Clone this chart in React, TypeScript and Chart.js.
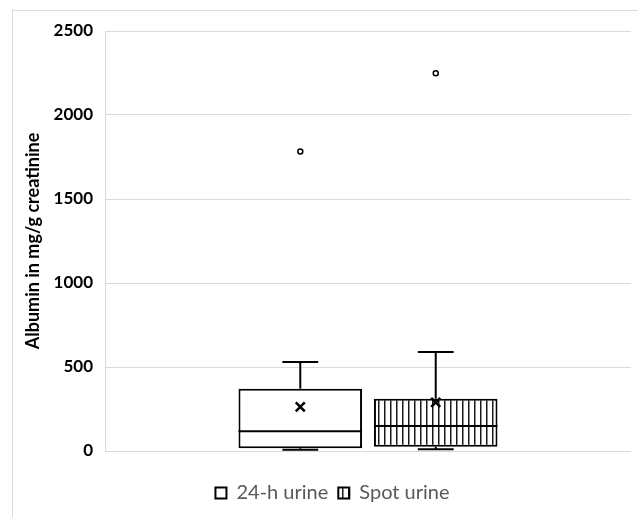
import React, { useEffect, useRef } from 'react';
import { Chart, registerables } from 'chart.js';

Chart.register(...registerables);

const categories = ['24-h urine', 'Spot urine'];
const minValues = [8, 10];
const q1Values = [16, 26];
const medianValues = [117, 149];
const q3Values = [371, 311];
const maxValues = [530, 589];
const meanValues = [262, 290];
const outlierValues = [[1782], [2248]];
const yMin = 0;
const yMax = 2500;
const yStep = 500;
const yTitle = 'Albumin in mg/g creatinine';

const FONT = 'Lato, "Open Sans", sans-serif';

function makeHatch(): CanvasPattern | string {
  const c = document.createElement('canvas');
  c.width = 6;
  c.height = 6;
  const g = c.getContext('2d');
  if (!g) return '#fff';
  g.fillStyle = '#ffffff';
  g.fillRect(0, 0, 6, 6);
  g.fillStyle = '#1a1a1a';
  g.fillRect(0, 0, 1.5, 6);
  const p = g.createPattern(c, 'repeat');
  return p || '#fff';
}

const boxParts = {
  id: 'boxParts',
  beforeDraw(chart: any) {
    const ctx = chart.ctx;
    ctx.save();
    ctx.fillStyle = '#ffffff';
    ctx.fillRect(0, 0, chart.width, chart.height);
    ctx.strokeStyle = '#dcdcdc';
    ctx.lineWidth = 1;
    ctx.strokeRect(12.5, 10.5, chart.width + 20, chart.height + 20);
    ctx.restore();
  },
  afterDatasetsDraw(chart: any) {
    const ctx = chart.ctx;
    const ys = chart.scales.y;
    const py = (v: number) => ys.getPixelForValue(v);
    const line = (x1: number, y1: number, x2: number, y2: number) => {
      ctx.beginPath();
      ctx.moveTo(x1, y1);
      ctx.lineTo(x2, y2);
      ctx.stroke();
    };
    categories.forEach((_, i) => {
      const el = chart.getDatasetMeta(i).data[0];
      if (!el) return;
      const x = el.x;
      const half = el.width / 2;
      const capHalf = el.width * 0.145;
      ctx.save();
      ctx.strokeStyle = '#000';
      ctx.lineWidth = 2;
      line(x - half, py(medianValues[i]), x + half, py(medianValues[i]));
      line(x, py(q3Values[i]), x, py(maxValues[i]));
      line(x - capHalf, py(maxValues[i]), x + capHalf, py(maxValues[i]));
      line(x, py(q1Values[i]), x, py(minValues[i]));
      line(x - capHalf, py(minValues[i]), x + capHalf, py(minValues[i]));
      const m = py(meanValues[i]);
      const s = 4.5;
      ctx.lineWidth = 2.5;
      line(x - s, m - s, x + s, m + s);
      line(x - s, m + s, x + s, m - s);
      ctx.lineWidth = 1.5;
      outlierValues[i].forEach((v) => {
        ctx.beginPath();
        ctx.arc(x, py(v), 2.5, 0, Math.PI * 2);
        ctx.fillStyle = '#fff';
        ctx.fill();
        ctx.stroke();
      });
      ctx.restore();
    });
  },
};

export default function App() {
  const ref = useRef<HTMLCanvasElement>(null);
  useEffect(() => {
    if (!ref.current) return;
    const hatch = makeHatch();
    const fills = ['#ffffff', hatch];
    const chart = new Chart(ref.current, {
      type: 'bar',
      data: {
        labels: [''],
        datasets: categories.map((name, i) => ({
          label: name,
          data: [[q1Values[i], q3Values[i]]] as any,
          backgroundColor: fills[i] as any,
          borderColor: '#000',
          borderWidth: 2,
          borderSkipped: false,
          categoryPercentage: 0.515,
          barPercentage: 0.912,
        })),
      },
      options: {
        responsive: false,
        animation: false,
        layout: { padding: { left: 34, right: 7, top: 31, bottom: 4 } },
        plugins: {
          tooltip: { enabled: false },
          legend: {
            position: 'bottom',
            labels: {
              boxWidth: 11,
              boxHeight: 11,
              padding: 10,
              color: '#595959',
              font: { family: FONT, size: 20 },
            },
          },
        },
        scales: {
          x: {
            display: true,
            grid: { display: false, drawTicks: false },
            border: { display: false },
            ticks: { display: false },
            afterFit: (s: any) => {
              s.height = 22;
            },
          },
          y: {
            min: yMin,
            max: yMax,
            ticks: {
              stepSize: yStep,
              padding: 12,
              color: '#000',
              font: { family: FONT, size: 17, weight: 'bold' },
              callback: (v: any) => String(v),
            },
            grid: { color: '#d9d9d9', drawTicks: false },
            border: { display: true, color: '#d9d9d9' },
            title: {
              display: true,
              text: yTitle,
              color: '#000',
              padding: { top: -12, bottom: 0 },
              font: { family: FONT, size: 18, weight: 'bold' },
            },
            afterFit: (s: any) => {
              s.width = 71;
            },
          },
        },
      },
      plugins: [boxParts],
    });
    return () => chart.destroy();
  }, []);
  return (
    <div style={{ position: 'fixed', left: 0, top: 0, width: 638, height: 517, background: '#fff' }}>
      <canvas ref={ref} width={638} height={517} style={{ display: 'block' }} />
    </div>
  );
}
